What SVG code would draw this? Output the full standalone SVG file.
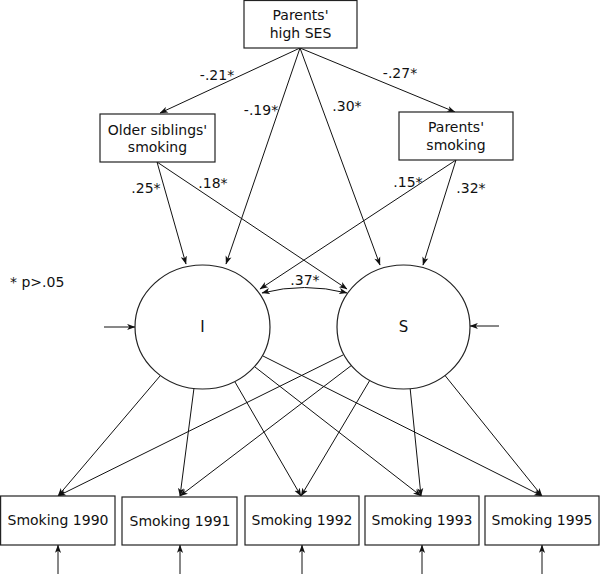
<svg xmlns="http://www.w3.org/2000/svg" width="600" height="574" viewBox="0 0 600 574">
<style>
text{font-family:"DejaVu Sans",sans-serif;font-size:14px;fill:#111;}
.c{text-anchor:middle;}
.box{fill:#fff;stroke:#222;stroke-width:1.2;}
.lat{fill:#fff;stroke:#222;stroke-width:1.2;}
.con line,.con path{stroke:#111;stroke-width:1;fill:none;marker-end:url(#ah);}
</style>
<defs>
<marker id="ah" viewBox="0 0 10 8" refX="9" refY="4" markerWidth="9" markerHeight="7" markerUnits="userSpaceOnUse" orient="auto-start-reverse">
<path d="M0,0.5 L9.5,4 L0,7.5 L2.5,4 z" fill="#111"/>
</marker>
</defs>
<g class="con" id="connectors">
<line x1="300" y1="48" x2="160" y2="113"/>
<line x1="300" y1="48" x2="455" y2="112"/>
<line x1="300" y1="48" x2="226" y2="264"/>
<line x1="300" y1="48" x2="380" y2="265"/>
<line x1="157" y1="162" x2="186" y2="264"/>
<line x1="157" y1="162" x2="347" y2="289"/>
<line x1="456" y1="160" x2="260" y2="289"/>
<line x1="456" y1="160" x2="423" y2="265"/>
<path d="M262,293 Q304.5,282 347,293" style="marker-start:url(#ah)"/>
<line x1="104" y1="327" x2="135" y2="327"/>
<line x1="499" y1="326" x2="470" y2="326"/>
<line x1="160" y1="376" x2="58" y2="496"/>
<line x1="194" y1="388" x2="180" y2="496"/>
<line x1="235" y1="382" x2="301" y2="496"/>
<line x1="255" y1="367" x2="421" y2="496"/>
<line x1="263" y1="356" x2="542" y2="496"/>
<line x1="343" y1="355" x2="58" y2="496"/>
<line x1="352" y1="365" x2="180" y2="496"/>
<line x1="370" y1="380" x2="301" y2="496"/>
<line x1="410" y1="387" x2="421" y2="496"/>
<line x1="443" y1="373" x2="542" y2="496"/>
<line x1="58" y1="574" x2="58" y2="545"/>
<line x1="180" y1="574" x2="180" y2="545"/>
<line x1="302" y1="574" x2="302" y2="545"/>
<line x1="422" y1="574" x2="422" y2="545"/>
<line x1="542" y1="574" x2="542" y2="545"/>
</g>
<g id="labels">
<text class="c" x="217" y="80">-.21*</text>
<text class="c" x="261" y="115">-.19*</text>
<text class="c" x="347" y="111">.30*</text>
<text class="c" x="400" y="78">-.27*</text>
<text class="c" x="146" y="193">.25*</text>
<text class="c" x="213" y="188">.18*</text>
<text class="c" x="408" y="187">.15*</text>
<text class="c" x="471" y="193">.32*</text>
<text class="c" x="305" y="285">.37*</text>
<text x="10" y="287">* p&gt;.05</text>
</g>
<g id="ses"><rect class="box" x="244" y="0.5" width="113" height="47.5"/><text class="c" x="300.5" y="20">Parents'</text><text class="c" x="300.5" y="38">high SES</text></g>
<g id="siblings"><rect class="box" x="100" y="114" width="115" height="48"/><text class="c" x="157.5" y="135">Older siblings'</text><text class="c" x="157.5" y="152">smoking</text></g>
<g id="parsmoke"><rect class="box" x="399" y="112" width="114" height="48"/><text class="c" x="456" y="132">Parents'</text><text class="c" x="456" y="150">smoking</text></g>
<g id="I"><ellipse class="lat" cx="202.5" cy="327" rx="67.5" ry="62"/><text class="c" x="202.5" y="332" style="font-size:15px">I</text></g>
<g id="S"><ellipse class="lat" cx="403.5" cy="327" rx="66.5" ry="62"/><text class="c" x="403.5" y="332" style="font-size:15px">S</text></g>
<g id="s1990"><rect class="box" x="0.6" y="496" width="114.4" height="49"/><text class="c" x="58" y="525">Smoking 1990</text></g>
<g id="s1991"><rect class="box" x="122" y="497" width="115" height="48"/><text class="c" x="180" y="526">Smoking 1991</text></g>
<g id="s1992"><rect class="box" x="245" y="496" width="114" height="49"/><text class="c" x="302" y="525">Smoking 1992</text></g>
<g id="s1993"><rect class="box" x="365" y="496" width="114" height="49"/><text class="c" x="422" y="525">Smoking 1993</text></g>
<g id="s1995"><rect class="box" x="485" y="496" width="114" height="49"/><text class="c" x="542" y="525">Smoking 1995</text></g>
</svg>
